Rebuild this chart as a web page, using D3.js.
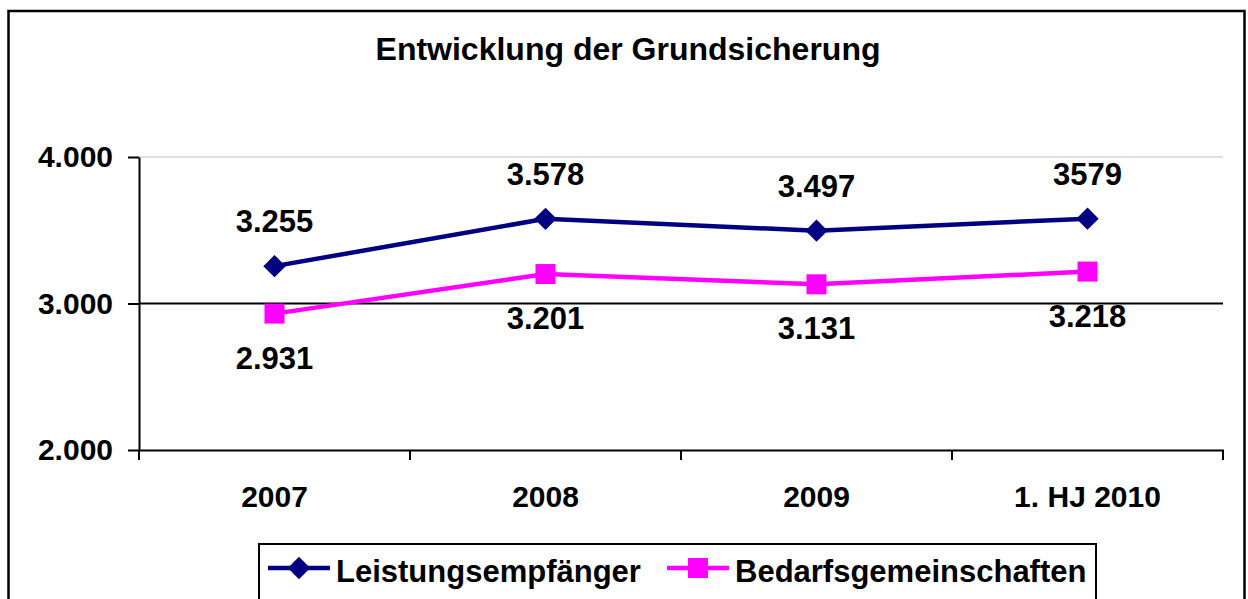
<!doctype html>
<html lang="de">
<head>
<meta charset="UTF-8">
<title>Entwicklung der Grundsicherung</title>
<script src="https://d3js.org/d3.v7.min.js"></script>
<style>
    body { margin: 0; background: #fff; }
    svg { display: block; }
    text { font-family: "Liberation Sans", Arial, sans-serif; font-weight: bold; fill: #000; }
</style>
</head>
<body>
<svg width="1248" height="599"></svg>
<script>
const categories = ['2007', '2008', '2009', '1. HJ 2010'];
const leistungsempfaenger = [3255, 3578, 3497, 3579];
const bedarfsgemeinschaften = [2931, 3201, 3131, 3218];
const leistungLabels = ['3.255', '3.578', '3.497', '3579'];
const bedarfLabels = ['2.931', '3.201', '3.131', '3.218'];
const yTicks = [2000, 3000, 4000];
const yTickLabels = ['2.000', '3.000', '4.000'];
const seriesNames = ['Leistungsempfänger', 'Bedarfsgemeinschaften'];

const svg = d3.select('svg');

// outer frame
svg.append('rect')
    .attr('x', 8.5).attr('y', 11)
    .attr('width', 1236).attr('height', 620)
    .attr('fill', 'none').attr('stroke', '#000').attr('stroke-width', 2.5);

svg.append('text')
    .attr('x', 628).attr('y', 60)
    .attr('text-anchor', 'middle')
    .style('font-size', '32px')
    .text('Entwicklung der Grundsicherung');

const x = d3.scaleBand().domain(categories).range([139, 1223]).padding(0);
const y = d3.scaleLinear().domain([2000, 4000]).range([450, 157]);
const bw = x.bandwidth();
const cx = (c) => x(c) + bw / 2;

// gridlines (top one light grey, middle one black)
svg.append('g').selectAll('line')
    .data(yTicks.filter((d) => d > 2000))
    .join('line')
    .attr('x1', 139).attr('x2', 1223)
    .attr('y1', (d) => y(d)).attr('y2', (d) => y(d))
    .attr('stroke', (d) => d === 4000 ? '#c0c0c0' : '#000')
    .attr('stroke-width', (d) => d === 4000 ? 1.2 : 2);

// y axis
const yAxis = svg.append('g')
    .attr('transform', 'translate(139,0)')
    .call(d3.axisLeft(y).tickValues(yTicks).tickSize(11).tickSizeOuter(0)
        .tickPadding(15).tickFormat((d, i) => yTickLabels[i]));
yAxis.selectAll('path, line').attr('stroke', '#000').attr('stroke-width', 2);
yAxis.selectAll('text').style('font-size', '30px').style('font-family', '"Liberation Sans", Arial, sans-serif');

// x axis line + ticks at category boundaries
svg.append('line')
    .attr('x1', 139).attr('x2', 1224)
    .attr('y1', 450.5).attr('y2', 450.5)
    .attr('stroke', '#000').attr('stroke-width', 2);
svg.append('g').selectAll('line')
    .data(categories.map((c) => x(c)).concat([x.range()[1]]))
    .join('line')
    .attr('x1', (d) => d).attr('x2', (d) => d)
    .attr('y1', 450).attr('y2', 460)
    .attr('stroke', '#000').attr('stroke-width', 2);

const xAxis = svg.append('g')
    .attr('transform', 'translate(0,450)')
    .call(d3.axisBottom(x).tickSize(0).tickPadding(36));
xAxis.select('.domain').remove();
xAxis.selectAll('text').style('font-size', '30px').style('font-family', '"Liberation Sans", Arial, sans-serif');

const series = [
    { name: seriesNames[0], values: leistungsempfaenger, labels: leistungLabels, color: '#000080', shape: 'diamond', dy: -34 },
    { name: seriesNames[1], values: bedarfsgemeinschaften, labels: bedarfLabels, color: '#ff00ff', shape: 'square', dy: 55 }
];

const line = d3.line()
    .x((d, i) => cx(categories[i]))
    .y((d) => y(d));

const diamond = d3.symbol().type(d3.symbolSquare).size(250);
const square = d3.symbol().type(d3.symbolSquare).size(400);

function marker(sel, shape, color, px, py) {
    sel.append('path')
        .attr('d', shape === 'diamond' ? diamond() : square())
        .attr('transform', `translate(${px},${py})` + (shape === 'diamond' ? ' rotate(45)' : ''))
        .attr('fill', color);
}

series.forEach((s) => {
    svg.append('path')
        .datum(s.values)
        .attr('d', line)
        .attr('fill', 'none')
        .attr('stroke', s.color)
        .attr('stroke-width', 4.5);
    s.values.forEach((v, i) => marker(svg, s.shape, s.color, cx(categories[i]), y(v)));
    svg.append('g').selectAll('text')
        .data(s.values)
        .join('text')
        .attr('x', (d, i) => cx(categories[i]))
        .attr('y', (d) => y(d) + s.dy)
        .attr('text-anchor', 'middle')
        .style('font-size', '31px')
        .text((d, i) => s.labels[i]);
});

// legend
const legend = svg.append('g');
legend.append('rect')
    .attr('x', 259).attr('y', 544)
    .attr('width', 837).attr('height', 80)
    .attr('fill', '#fff').attr('stroke', '#000').attr('stroke-width', 2);

const legendX = [268, 667];
series.forEach((s, i) => {
    const lx = legendX[i];
    legend.append('line')
        .attr('x1', lx).attr('x2', lx + 62)
        .attr('y1', 568).attr('y2', 568)
        .attr('stroke', s.color).attr('stroke-width', 4.5);
    marker(legend, s.shape, s.color, lx + 31, 568);
    legend.append('text')
        .attr('x', lx + 68).attr('y', 582)
        .style('font-size', '31px')
        .text(s.name);
});
</script>
</body>
</html>
